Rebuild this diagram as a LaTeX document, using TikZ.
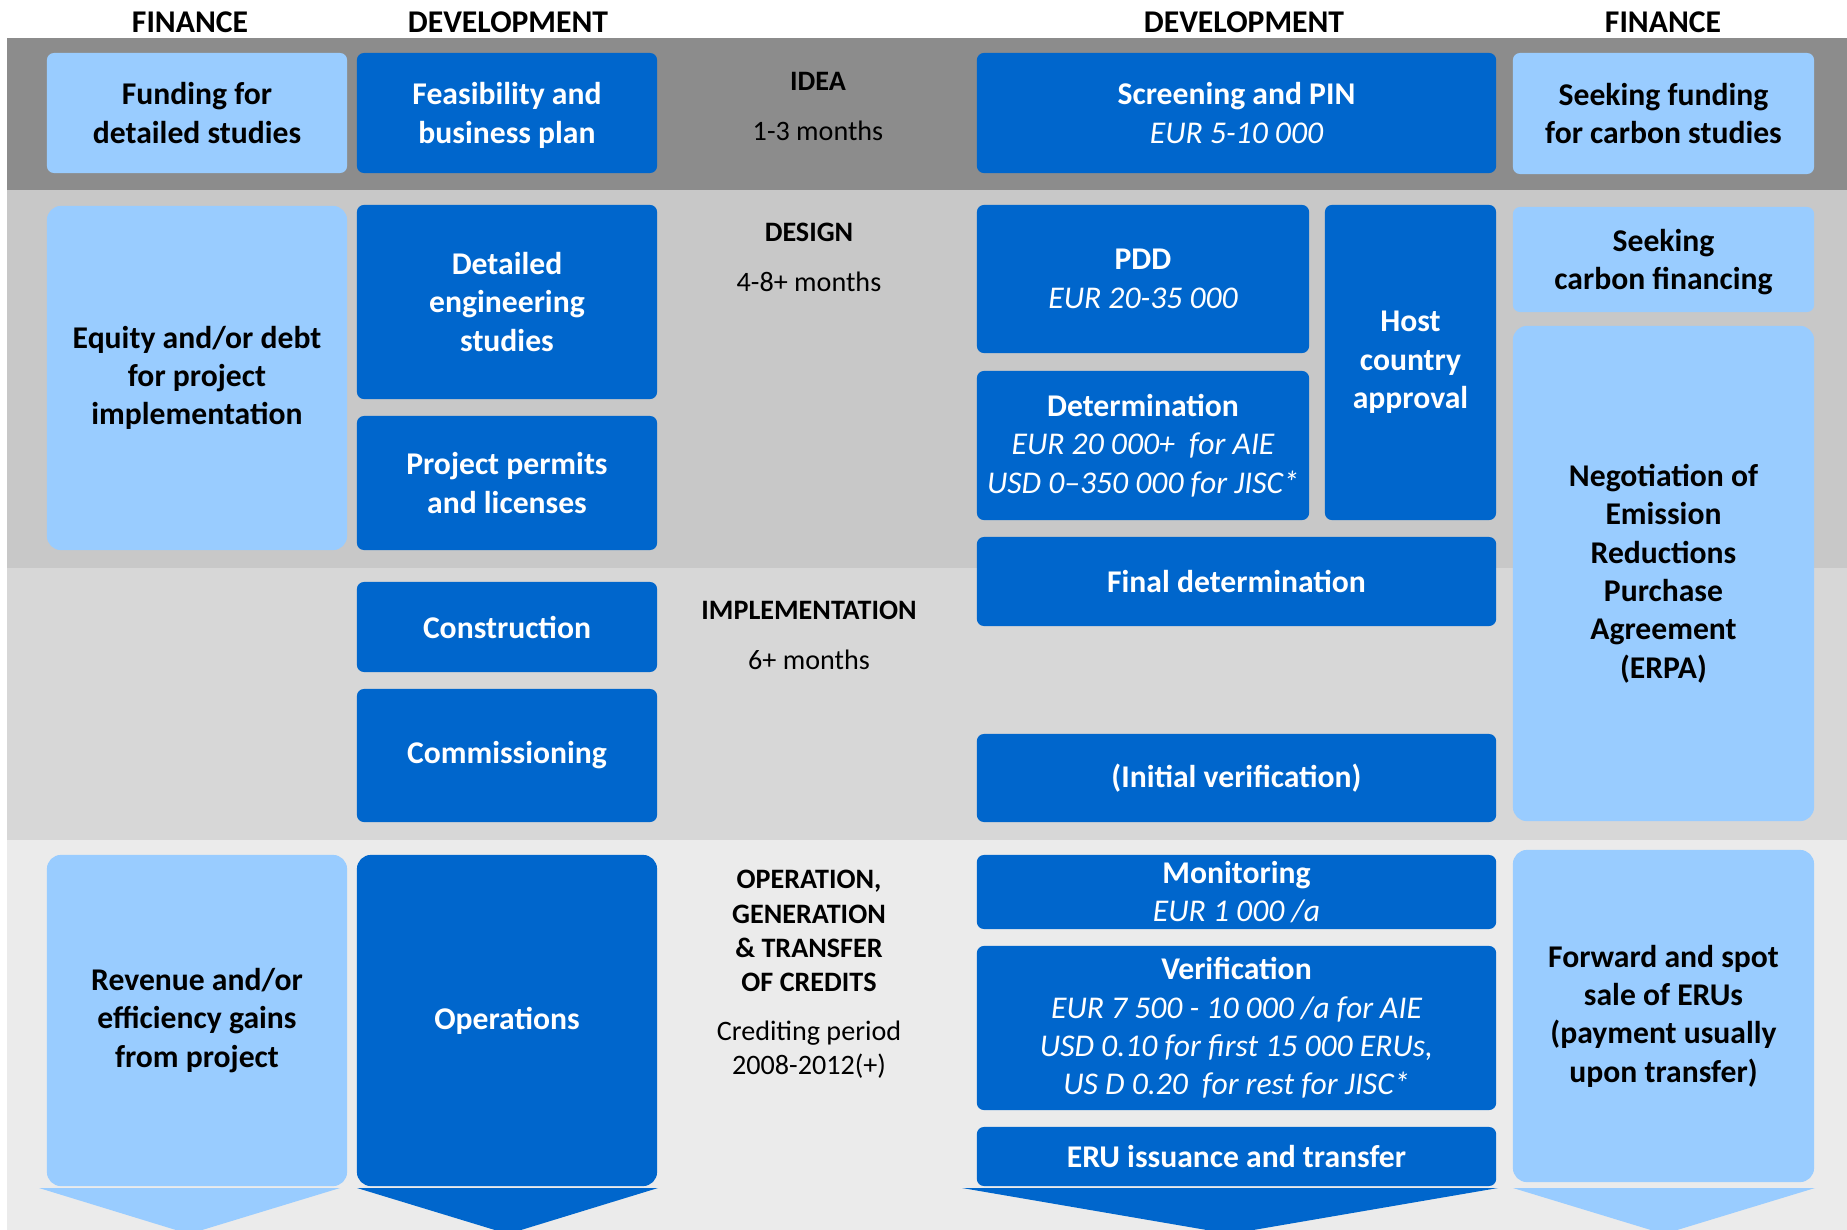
\documentclass[tikz,border=0pt]{standalone}
\usepackage{fontspec}
\setmainfont{Carlito}
\definecolor{devblue}{HTML}{0066CC}
\definecolor{finblue}{HTML}{99CCFF}
\definecolor{ideagray}{HTML}{8C8C8C}
\definecolor{designgray}{HTML}{C8C8C8}
\definecolor{implgray}{HTML}{D7D7D7}
\definecolor{opgray}{HTML}{EBEBEB}
\tikzset{
	devbox/.style={rectangle, rounded corners=2pt, fill=devblue, text=white, align=center, inner sep=0pt, font=\fontsize{9}{10.9}\selectfont\bfseries},
	finbox/.style={rectangle, rounded corners=2pt, fill=finblue, text=black, align=center, inner sep=0pt, font=\fontsize{9}{10.9}\selectfont\bfseries},
	bigbox/.style={rounded corners=4pt},
	size/.style 2 args={minimum width=#1cm, minimum height=#2cm},
	phase/.style={align=center, font=\fontsize{8}{9.7}\selectfont\bfseries},
	duration/.style={align=center, font=\fontsize{8}{9.5}\selectfont},
	colhead/.style={font=\fontsize{9}{10}\selectfont\bfseries}
}
\newcommand{\cost}[1]{{\mdseries\itshape #1}}
\newcommand{\nodepth}[1]{\raisebox{0pt}[\height][0pt]{#1}}

\begin{document}
\begin{tikzpicture}[x=0.01cm, y=-0.01cm]
	\useasboundingbox (0,0) rectangle (1847,1230);
	\fill[white] (0,0) rectangle (1847,1230);

	% Phase bands
	\fill[ideagray] (7,38) rectangle (1847,190);
	\fill[designgray] (7,190) rectangle (1847,568);
	\fill[implgray] (7,568) rectangle (1847,840);
	\fill[opgray] (7,840) rectangle (1847,1230);

	% Column headings
	\node[colhead] (hfinl) at (190,22) {FINANCE};
	\node[colhead] (hdevl) at (508,22) {DEVELOPMENT};
	\node[colhead] (hdevr) at (1244,22) {DEVELOPMENT};
	\node[colhead] (hfinr) at (1663,22) {FINANCE};

	% Arrow heads below the last row
	\fill[finblue] (39,1188) -- (340,1188) -- (189,1234) -- cycle;
	\fill[devblue] (357,1188) -- (658,1188) -- (508,1234) -- cycle;
	\fill[devblue] (962,1188) -- (1498,1188) -- (1230,1234) -- cycle;
	\fill[finblue] (1513,1188) -- (1815,1188) -- (1664,1234) -- cycle;

	% Idea
	\node[finbox, size={3.00}{1.20}] (fund) at (197,113) {Funding for\\detailed studies};
	\node[devbox, size={3.00}{1.20}] (feas) at (507,113) {Feasibility and\\\nodepth{business plan}};
	\node[phase] (idea) at (818,81) {IDEA};
	\node[duration] (ideatime) at (818,131) {1-3 months};
	\node[devbox, size={5.19}{1.20}] (pin) at (1236.5,113) {Screening and PIN\\\cost{EUR 5-10 000}};
	\node[finbox, size={3.01}{1.21}] (seekfund) at (1663.5,113.5) {Seeking funding\\for carbon studies};

	% Design
	\node[finbox, bigbox, size={3.00}{3.44}] (equity) at (197,378) {Equity and/or debt\\for project\\implementation};
	\node[devbox, size={3.00}{1.94}] (deteng) at (507,302) {Detailed\\engineering\\studies};
	\node[devbox, size={3.00}{1.34}] (permits) at (507,483) {Project permits\\and licenses};
	\node[phase] (design) at (809,232) {DESIGN};
	\node[duration] (designtime) at (809,282) {4-8+ months};
	\node[devbox, size={3.32}{1.48}] (pdd) at (1143,279) {PDD\\\cost{EUR 20-35 000}};
	\node[devbox, size={3.32}{1.49}] (determ) at (1143,445.5) {Determination\\\cost{EUR 20 000+~ for AIE}\\\cost{USD 0--350 000 for JISC*}};
	\node[devbox, size={1.71}{3.15}] (host) at (1410.5,362.5) {Host\\country\\approval};
	\node[devbox, size={5.19}{0.89}] (finaldet) at (1236.5,581.5) {Final determination};
	\node[finbox, size={3.01}{1.05}] (seekcarb) at (1663.5,259.5) {Seeking\\\nodepth{carbon financing}};
	\node[finbox, bigbox, size={3.01}{4.95}] (erpa) at (1663.5,573.5) {Negotiation of\\Emission\\Reductions\\Purchase\\Agreement\\(ERPA)};

	% Implementation
	\node[devbox, size={3.00}{0.90}] (constr) at (507,627) {Construction};
	\node[devbox, size={3.00}{1.33}] (commis) at (507,755.5) {Commissioning};
	\node[phase] (impl) at (809,610) {IMPLEMENTATION};
	\node[duration] (impltime) at (809,660) {6+ months};
	\node[devbox, size={5.19}{0.88}] (initver) at (1236.5,778) {(Initial verification)};

	% Operation
	\node[finbox, bigbox, size={3.00}{3.31}] (revenue) at (197,1020.5) {Revenue and/or\\efficiency gains\\from project};
	\node[devbox, bigbox, size={3.00}{3.31}] (ops) at (507,1020.5) {Operations};
	\node[phase] (oper) at (809,931) {OPERATION,\\GENERATION\\\&~TRANSFER\\OF CREDITS};
	\node[duration] (period) at (809,1049.5) {Crediting period\\2008-2012(+)};
	\node[devbox, size={5.19}{0.74}] (monit) at (1236.5,892) {Monitoring\\\cost{EUR 1 000 /a}};
	\node[devbox, size={5.19}{1.64}] (verif) at (1236.5,1028) {Verification\\\cost{EUR 7 500 - 10 000 /a for AIE}\\\cost{USD 0.10 for first 15 000 ERUs,}\\\cost{US D 0.20~ for rest for JISC*}};
	\node[devbox, size={5.19}{0.59}] (eru) at (1236.5,1156.5) {ERU issuance and transfer};
	\node[finbox, bigbox, size={3.01}{3.32}] (forward) at (1663.5,1016) {Forward and spot\\sale of ERUs\\(payment usually\\upon transfer)};
\end{tikzpicture}
\end{document}
